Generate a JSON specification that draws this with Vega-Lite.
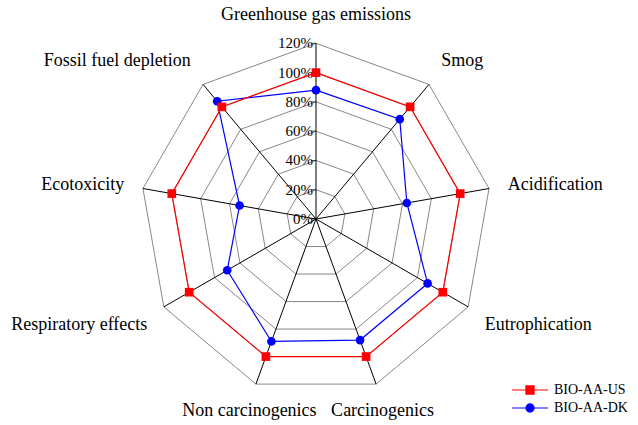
{
  "$schema": "https://vega.github.io/schema/vega-lite/v6.json",
  "width": 638,
  "height": 425,
  "padding": 0,
  "autosize": {"type": "none"},
  "config": {"view": {"stroke": null}, "font": "Liberation Serif",
             "legend": {"labelFont": "Liberation Serif", "labelFontSize": 14}},
  "datasets": {
    "axes": [
      {"category": "Greenhouse gas emissions"},
      {"category": "Smog"},
      {"category": "Acidification"},
      {"category": "Eutrophication"},
      {"category": "Carcinogenics"},
      {"category": "Non carcinogenics"},
      {"category": "Respiratory effects"},
      {"category": "Ecotoxicity"},
      {"category": "Fossil fuel depletion"}
    ],
    "scores": [
      {"series": "BIO-AA-DK", "category": "Greenhouse gas emissions", "value": 88},
      {"series": "BIO-AA-DK", "category": "Smog", "value": 89},
      {"series": "BIO-AA-DK", "category": "Acidification", "value": 63},
      {"series": "BIO-AA-DK", "category": "Eutrophication", "value": 88},
      {"series": "BIO-AA-DK", "category": "Carcinogenics", "value": 88},
      {"series": "BIO-AA-DK", "category": "Non carcinogenics", "value": 89},
      {"series": "BIO-AA-DK", "category": "Respiratory effects", "value": 70},
      {"series": "BIO-AA-DK", "category": "Ecotoxicity", "value": 53},
      {"series": "BIO-AA-DK", "category": "Fossil fuel depletion", "value": 105},
      {"series": "BIO-AA-US", "category": "Greenhouse gas emissions", "value": 100},
      {"series": "BIO-AA-US", "category": "Smog", "value": 100},
      {"series": "BIO-AA-US", "category": "Acidification", "value": 100},
      {"series": "BIO-AA-US", "category": "Eutrophication", "value": 100},
      {"series": "BIO-AA-US", "category": "Carcinogenics", "value": 100},
      {"series": "BIO-AA-US", "category": "Non carcinogenics", "value": 100},
      {"series": "BIO-AA-US", "category": "Respiratory effects", "value": 100},
      {"series": "BIO-AA-US", "category": "Ecotoxicity", "value": 100},
      {"series": "BIO-AA-US", "category": "Fossil fuel depletion", "value": 100}
    ],
    "levels": [
      {"level": 0}, {"level": 20}, {"level": 40}, {"level": 60},
      {"level": 80}, {"level": 100}, {"level": 120}
    ]
  },
  "encoding": {
    "x": {"field": "x", "type": "quantitative", "axis": null,
          "scale": {"domain": [-215.8, 219.9], "nice": false, "zero": false}},
    "y": {"field": "y", "type": "quantitative", "axis": null,
          "scale": {"domain": [-140.7, 149.6], "nice": false, "zero": false}}
  },
  "layer": [
    {
      "data": {"name": "axes"},
      "transform": [
        {"calculate": "[20,40,60,80,100,120]", "as": "level"},
        {"flatten": ["level"]},
        {"calculate": "indexof(['Greenhouse gas emissions','Smog','Acidification','Eutrophication','Carcinogenics','Non carcinogenics','Respiratory effects','Ecotoxicity','Fossil fuel depletion'], datum.category)", "as": "i"},
        {"calculate": "datum.i * 2 * PI / 9", "as": "a"},
        {"calculate": "datum.level * sin(datum.a)", "as": "x"},
        {"calculate": "datum.level * cos(datum.a)", "as": "y"}
      ],
      "mark": {"type": "line", "interpolate": "linear-closed", "color": "#888888", "strokeWidth": 1},
      "encoding": {
        "detail": {"field": "level", "type": "nominal"},
        "order": {"field": "i", "type": "quantitative"}
      }
    },
    {
      "data": {"name": "axes"},
      "transform": [
        {"calculate": "indexof(['Greenhouse gas emissions','Smog','Acidification','Eutrophication','Carcinogenics','Non carcinogenics','Respiratory effects','Ecotoxicity','Fossil fuel depletion'], datum.category)", "as": "i"},
        {"calculate": "datum.i * 2 * PI / 9", "as": "a"},
        {"calculate": "120 * sin(datum.a)", "as": "x"},
        {"calculate": "120 * cos(datum.a)", "as": "y"}
      ],
      "mark": {"type": "rule", "color": "#000000", "strokeWidth": 1},
      "encoding": {
        "x2": {"datum": 0},
        "y2": {"datum": 0}
      }
    },
    {
      "data": {"name": "levels"},
      "transform": [
        {"calculate": "0", "as": "x"},
        {"calculate": "datum.level", "as": "y"}
      ],
      "mark": {"type": "tick", "orient": "horizontal", "size": 5, "xOffset": -2.5, "color": "#000000", "thickness": 1}
    },
    {
      "data": {"name": "levels"},
      "transform": [
        {"calculate": "0", "as": "x"},
        {"calculate": "datum.level", "as": "y"},
        {"calculate": "datum.level + '%'", "as": "lab"}
      ],
      "mark": {"type": "text", "align": "right", "baseline": "middle", "dx": -3, "fontSize": 15, "color": "#000000"},
      "encoding": {"text": {"field": "lab"}}
    },
    {
      "data": {"name": "axes"},
      "transform": [
        {"calculate": "indexof(['Greenhouse gas emissions','Smog','Acidification','Eutrophication','Carcinogenics','Non carcinogenics','Respiratory effects','Ecotoxicity','Fossil fuel depletion'], datum.category)", "as": "i"},
        {"calculate": "datum.i * 2 * PI / 9", "as": "a"},
        {"calculate": "133 * sin(datum.a)", "as": "x"},
        {"calculate": "133 * cos(datum.a)", "as": "y"}
      ],
      "mark": {
        "type": "text",
        "fontSize": 18,
        "color": "#000000",
        "align": {"expr": "(datum.i == 0 || datum.i == 4 || datum.i == 5) ? 'center' : (datum.i < 4 ? 'left' : 'right')"},
        "baseline": {"expr": "(datum.i == 2 || datum.i == 7) ? 'middle' : ((datum.i == 0 || datum.i == 1 || datum.i == 8) ? 'bottom' : 'top')"}
      },
      "encoding": {"text": {"field": "category"}}
    },
    {
      "data": {"name": "scores"},
      "transform": [
        {"calculate": "indexof(['Greenhouse gas emissions','Smog','Acidification','Eutrophication','Carcinogenics','Non carcinogenics','Respiratory effects','Ecotoxicity','Fossil fuel depletion'], datum.category)", "as": "i"},
        {"calculate": "datum.i * 2 * PI / 9", "as": "a"},
        {"calculate": "datum.value * sin(datum.a)", "as": "x"},
        {"calculate": "datum.value * cos(datum.a)", "as": "y"}
      ],
      "layer": [
        {
          "mark": {"type": "line", "interpolate": "linear-closed", "strokeWidth": 1.2},
          "encoding": {
            "color": {
              "field": "series", "type": "nominal",
              "scale": {"domain": ["BIO-AA-US", "BIO-AA-DK"], "range": ["#ff0000", "#0000ff"]},
              "legend": {
                "title": null,
                "orient": "bottom-right",
                "offset": 10,
                "padding": 0,
                "labelFont": "Liberation Serif",
                "labelFontSize": 14,
                "labelColor": "#000000",
                "symbolSize": 324,
                "labelOffset": 14,
                "rowPadding": 1,
                "encode": {
                  "labels": {
                    "update": {
                      "font": {"value": "Liberation Serif"},
                      "fontSize": {"value": 14}
                    }
                  },
                  "symbols": {
                    "update": {
                      "shape": {"signal": "datum.value === 'BIO-AA-US' ? 'M-2,0H2M-0.45,-0.45H0.45V0.45H-0.45Z' : 'M-2,0H2M0.45,0A0.45,0.45 0 1,1 -0.45,0A0.45,0.45 0 1,1 0.45,0Z'"},
                      "fill": {"scale": "color", "field": "value"},
                      "stroke": {"scale": "color", "field": "value"},
                      "strokeWidth": {"value": 1.2},
                      "fillOpacity": {"value": 1},
                      "opacity": {"value": 1}
                    }
                  }
                }
              }
            },
            "detail": {"field": "series", "type": "nominal"},
            "order": {"field": "i", "type": "quantitative"}
          }
        },
        {
          "transform": [{"filter": "datum.series === 'BIO-AA-DK'"}],
          "mark": {"type": "point", "filled": true, "opacity": 1, "size": 75, "shape": "circle", "color": "#0000ff"}
        },
        {
          "transform": [{"filter": "datum.series === 'BIO-AA-US'"}],
          "mark": {"type": "point", "filled": true, "opacity": 1, "size": 75, "shape": "square", "color": "#ff0000"}
        }
      ]
    }
  ]
}
